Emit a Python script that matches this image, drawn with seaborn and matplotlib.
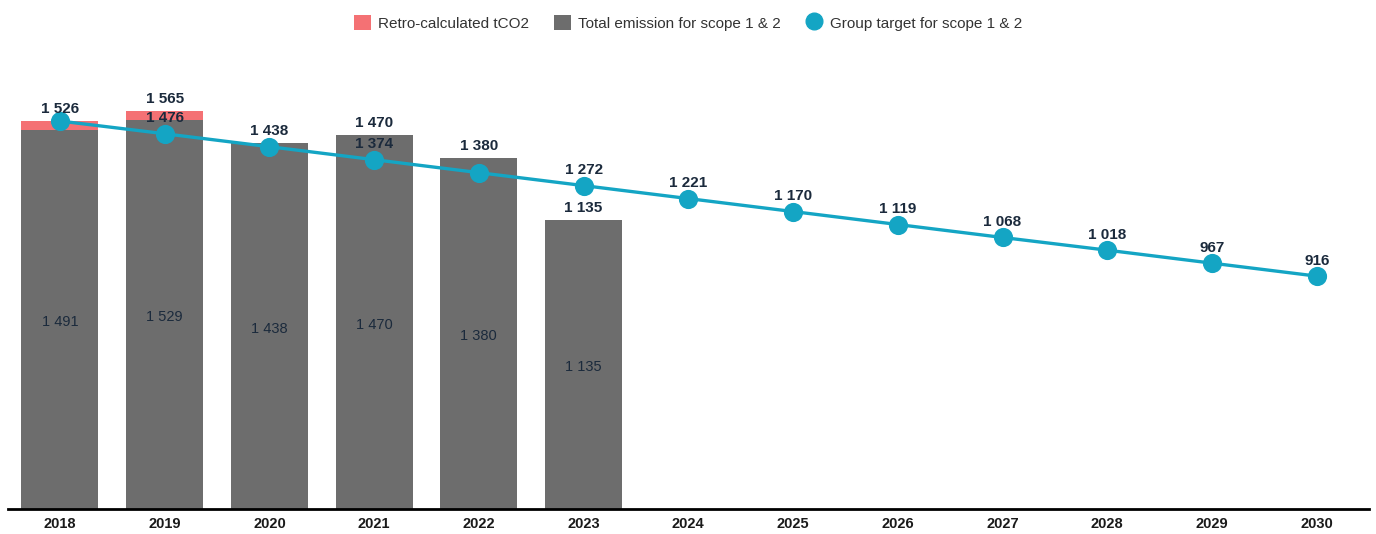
import numpy as np
import pandas as pd
import seaborn as sns
import matplotlib.pyplot as plt
from matplotlib.patches import Patch
from matplotlib.lines import Line2D

years = [str(y) for y in range(2018, 2031)]
bar_years = ["2018", "2019", "2020", "2021", "2022", "2023"]
total_emission = [1491, 1529, 1438, 1470, 1380, 1135]
retro_total = [1526, 1565, 1438, 1470, 1380, 1135]
target = [1526, 1476, 1425, 1374, 1323, 1272, 1221, 1170, 1119, 1068, 1018, 967, 916]
target_shown = [False, True, False, True, False, True, True, True, True, True, True, True, True]

grey = "#6d6d6d"
pink = "#f47174"
teal = "#14a5c4"
navy = "#1b2a3c"

def fmt(v):
    return f"{v:,}".replace(",", " ")

sns.set_theme(style="white")
plt.rcParams["font.family"] = ["Liberation Sans", "DejaVu Sans"]

fig = plt.figure(figsize=(13.76, 5.34), dpi=100)
ax = fig.add_axes([0.0055, 0.0468, 0.9895, 0.857])

bars = pd.DataFrame({"year": bar_years, "total": total_emission, "retro": retro_total})
sns.barplot(data=bars, x="year", y="retro", order=years, color=pink,
            saturation=1, width=0.735, linewidth=0, ax=ax)
sns.barplot(data=bars, x="year", y="total", order=years, color=grey,
            saturation=1, width=0.735, linewidth=0, ax=ax)

line = pd.DataFrame({"year": years, "target": target})
sns.pointplot(data=line, x="year", y="target", order=years, color=teal,
              markers="o", markersize=12, linewidth=2.4, ax=ax)

for i, (t, r) in enumerate(zip(total_emission, retro_total)):
    ax.text(i, t / 2 - 10, fmt(t), ha="center", va="center", fontsize=10.5, color=navy)
    ax.text(i, r + 48, fmt(r), ha="center", va="center", fontsize=11,
            color=navy, fontweight="bold")

for i, (v, s) in enumerate(zip(target, target_shown)):
    if s:
        ax.text(i, v + 60, fmt(v), ha="center", va="center", fontsize=11,
                color=navy, fontweight="bold")

ax.set_xlim(-0.5, 12.5)
ax.set_ylim(0, 1800)
ax.set_xlabel("")
ax.set_ylabel("")
ax.set_yticks([])
ax.tick_params(axis="x", length=0, pad=6)
for lbl in ax.get_xticklabels():
    lbl.set_fontweight("bold")
    lbl.set_fontsize(10.5)
    lbl.set_color("#1a1a1a")
for s in ["top", "right", "left"]:
    ax.spines[s].set_visible(False)
ax.spines["bottom"].set_color("black")
ax.spines["bottom"].set_linewidth(2)

handles = [
    Patch(facecolor=pink, edgecolor="none", label="Retro-calculated tCO2"),
    Patch(facecolor=grey, edgecolor="none", label="Total emission for scope 1 & 2"),
    Line2D([0], [0], marker="o", color="none", markerfacecolor=teal,
           markeredgecolor=teal, markersize=12, label="Group target for scope 1 & 2"),
]
fig.legend(handles=handles, loc="center", bbox_to_anchor=(0.5, 0.957), ncol=3,
           frameon=False, fontsize=11, handlelength=1.1, handleheight=1.1,
           columnspacing=1.6, handletextpad=0.5, labelcolor="#333333")

fig.savefig("out.png", dpi=100)
